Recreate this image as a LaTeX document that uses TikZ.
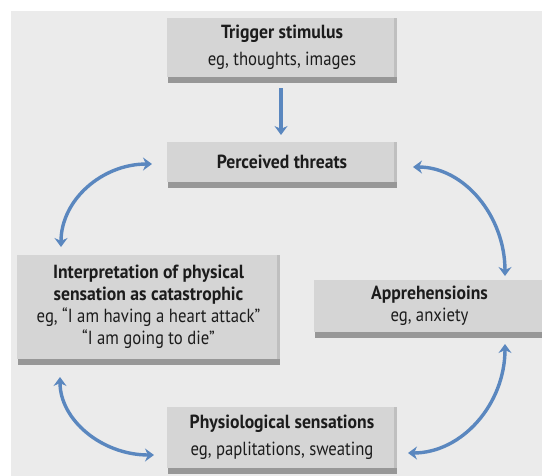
\documentclass[tikz,border=0pt]{standalone}
\usepackage{fontspec}
\setmainfont{PT Sans}[UprightFeatures={FakeStretch=0.88}, BoldFeatures={FakeStretch=0.93}]
\usetikzlibrary{arrows.meta,calc}
\definecolor{panel}{HTML}{EBEBEB}
\definecolor{boxfill}{HTML}{D5D5D5}
\definecolor{boxedge}{HTML}{BFBFBF}
\definecolor{boxshadow}{HTML}{979797}
\definecolor{flow}{HTML}{5A87BF}
\definecolor{ink}{HTML}{1C1C1C}
\tikzset{
  stagebox/.style={rectangle, fill=boxfill, inner sep=0pt, align=center,
    text=ink, font=\fontsize{19}{22}\selectfont},
  flowarrow/.style={draw=flow, line width=3.4pt, -{Stealth[length=9pt,width=13pt,inset=3pt]}},
  flowboth/.style={draw=flow, line width=3.4pt,
    {Stealth[length=9pt,width=13pt,inset=3pt]}-{Stealth[length=9pt,width=13pt,inset=3pt]}},
}
% draws the darker right rim and bottom bar under a stage box
\newcommand{\boxrim}[1]{%
  \fill[boxedge] ($(#1.north east)+(-3,0)$) rectangle (#1.south east);
  \fill[boxshadow] ($(#1.south west)+(1,0)$) rectangle ($(#1.south east)+(0,6)$);
}
\begin{document}
\begin{tikzpicture}[x=1pt,y=-1pt]
\useasboundingbox (0,0) rectangle (542,475);
\fill[white] (0,0) rectangle (542,475);
\fill[panel] (11,11) rectangle (560,490);

\node[stagebox, minimum width=230, minimum height=59] (trig) at (282,47.5)
  {\bfseries Trigger stimulus\\[5.5pt] eg, thoughts, images};
\node[stagebox, minimum width=230, minimum height=40] (perc) at (282,162)
  {\bfseries Perceived threats};
\node[stagebox, minimum width=263, minimum height=104] (interp) at (148.5,307)
  {\bfseries Interpretation of physical\\ \bfseries sensation as catastrophic\\
   eg, “I am having a heart attack”\\ “I am going to die”};
\node[stagebox, minimum width=231, minimum height=52] (appr) at (429.5,306)
  {\bfseries Apprehensioins\\ eg, anxiety};
\node[stagebox, minimum width=230, minimum height=61] (phys) at (282,437.5)
  {\bfseries Physiological sensations\\[5.5pt] eg, paplitations, sweating};

\boxrim{trig}
\boxrim{perc}
\boxrim{interp}
\boxrim{appr}
\boxrim{phys}

% connector end points beside the boxes
\coordinate (trigout) at (281,88);
\coordinate (percin) at (281,135);
\coordinate (percL) at (152,164);
\coordinate (interpT) at (61,247);
\coordinate (percR) at (413,167);
\coordinate (apprT) at (505,276);
\coordinate (apprB) at (505,344);
\coordinate (physR) at (408,453);
\coordinate (interpB) at (60,377);
\coordinate (physL) at (154,455);

\draw[flowarrow] (trigout) -- (percin);
\draw[flowboth] (interpT) .. controls (61,200) and (102,164) .. (percL);
\draw[flowboth] (percR) .. controls (464,167) and (505,216) .. (apprT);
\draw[flowboth] (apprB) .. controls (505,404) and (462,453) .. (physR);
\draw[flowboth] (interpB) .. controls (60,420) and (102,455) .. (physL);
\end{tikzpicture}
\end{document}
